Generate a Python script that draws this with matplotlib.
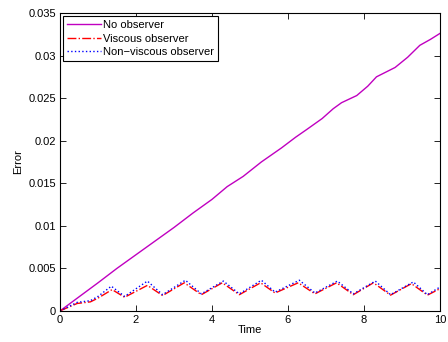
import matplotlib
matplotlib.use("Agg")
import matplotlib.pyplot as plt
import matplotlib.ticker as mticker

plt.rcParams["font.family"] = ["Liberation Sans", "DejaVu Sans"]

# ── Error traces ──────────────────────────────────────────────────────────────
t_none = [0, 0.5, 1.0, 1.5, 2.0, 2.5, 3.0, 3.5, 4.0, 4.4, 4.82, 5.3, 5.83, 6.2,
          6.49, 6.9, 7.19, 7.41, 7.81, 8.1, 8.33, 8.82, 9.15, 9.47, 9.75, 10.0]
err_none = [0, 0.00165, 0.0033, 0.0050, 0.0066, 0.0082, 0.0098, 0.0115, 0.0131,
            0.0146, 0.0158, 0.0175, 0.01915, 0.0204, 0.0213, 0.0226, 0.02375,
            0.02446, 0.0253, 0.0264, 0.0275, 0.0286, 0.0298, 0.0312, 0.0319,
            0.0326]

t_visc = [0, 0.45, 0.8, 1.0, 1.37, 1.7, 2.3, 2.7, 3.27, 3.72, 4.27, 4.72, 5.28,
          5.66, 6.27, 6.71, 7.28, 7.72, 8.25, 8.7, 9.25, 9.67, 10.0]
err_visc = [0, 0.00087, 0.00106, 0.0015, 0.0025, 0.0016, 0.0030, 0.0018,
            0.0033, 0.0019, 0.0033, 0.0019, 0.0033, 0.0021, 0.0033, 0.0020,
            0.0033, 0.0019, 0.0033, 0.00185, 0.0032, 0.00185, 0.0026]

t_nonvisc = [0, 0.45, 0.8, 1.0, 1.35, 1.7, 2.3, 2.7, 3.3, 3.72, 4.3, 4.72, 5.3,
             5.66, 6.3, 6.71, 7.3, 7.72, 8.3, 8.7, 9.3, 9.67, 10.0]
err_nonvisc = [0, 0.0010, 0.0012, 0.0017, 0.0029, 0.0017, 0.0035, 0.0019,
               0.0036, 0.0020, 0.0035, 0.0020, 0.0036, 0.0022, 0.0036, 0.0021,
               0.0035, 0.0020, 0.0035, 0.0019, 0.0034, 0.0019, 0.0028]

x_ticks = [0, 2, 4, 6, 8, 10]
y_ticks = [0, 0.005, 0.01, 0.015, 0.02, 0.025, 0.03, 0.035]

fig = plt.figure(figsize=(4.48, 3.42), dpi=100)
ax = fig.add_axes([0.134, 0.091, 0.848, 0.871])

ax.plot(t_none, err_none, color="#c000c0", linewidth=1.0, label="No observer")
ax.plot(t_visc, err_visc, color="#ff0000", linewidth=1.0, linestyle="-.",
        label="Viscous observer")
ax.plot(t_nonvisc, err_nonvisc, color="#0000ff", linewidth=1.0, linestyle=":",
        label="Non\u2212viscous observer")

ax.set_xlim(0, 10)
ax.set_ylim(0, 0.035)
ax.set_xticks(x_ticks)
ax.set_yticks(y_ticks)
ax.yaxis.set_major_formatter(mticker.FormatStrFormatter("%g"))
ax.tick_params(direction="in", length=4, width=0.6, top=True, right=True,
               labelsize=8, pad=3)
for sp in ax.spines.values():
    sp.set_linewidth(0.8)

ax.set_xlabel("Time", fontsize=8, labelpad=0)
ax.set_ylabel("Error", fontsize=8, labelpad=4)

leg = ax.legend(loc="upper left", fontsize=8, handlelength=3.0,
                borderaxespad=0.3, borderpad=0.35, labelspacing=0.3,
                handletextpad=0.25, fancybox=False, framealpha=1)
leg.get_frame().set_edgecolor("black")
leg.get_frame().set_linewidth(0.8)

fig.savefig("out.png", dpi=100)
